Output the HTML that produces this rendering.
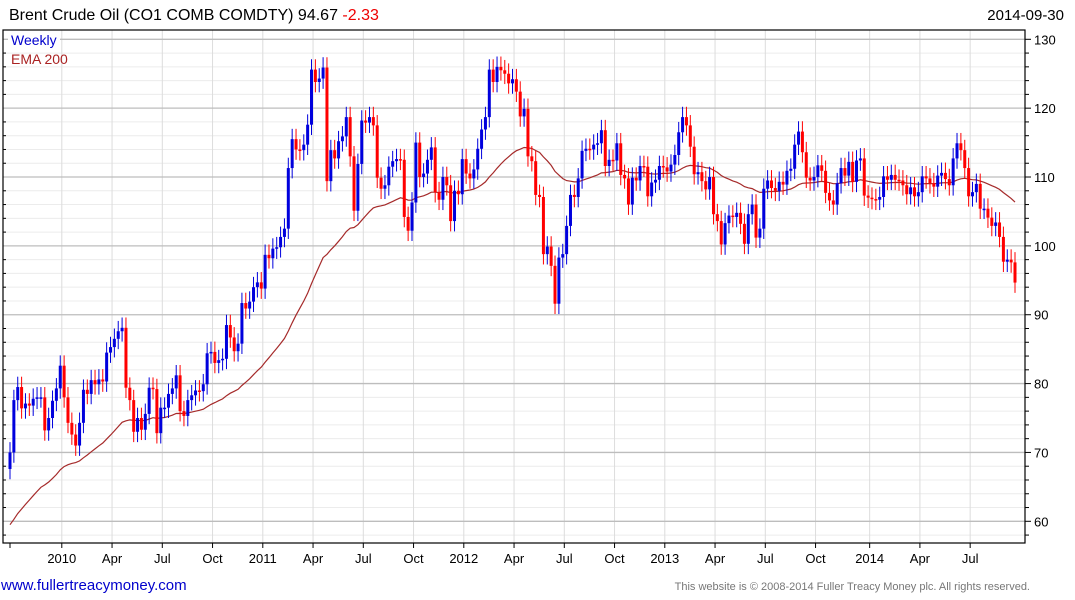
<!DOCTYPE html>
<html><head><meta charset="utf-8"><style>
body{margin:0;background:#fff;width:1075px;height:600px;overflow:hidden;font-family:"Liberation Sans",sans-serif}
svg{display:block}
</style></head><body>
<svg id="chart" width="1075" height="600" xmlns="http://www.w3.org/2000/svg">
<text x="9" y="20" font-size="16" fill="#000">Brent Crude Oil  (CO1 COMB COMDTY) 94.67 <tspan fill="#e00">-2.33</tspan></text>
<text x="1064" y="20" font-size="15" text-anchor="end" fill="#000">2014-09-30</text>
<g id="grid"></g>
<g id="ema"></g>
<g id="candles"></g>
<rect x="3" y="30" width="1022" height="513" fill="none" stroke="#000" stroke-width="1.2"/>
<g id="axes"></g>
<rect x="8" y="32" width="52" height="15" fill="#fff"/>
<text x="11" y="45" font-size="14" fill="#00c">Weekly</text>
<text x="11" y="64" font-size="14" fill="#a22">EMA 200</text>
<text x="1" y="590" font-size="15" fill="#00c">www.fullertreacymoney.com</text>
<text x="1030" y="590" font-size="11" text-anchor="end" fill="#777">This website is © 2008-2014 Fuller Treacy Money plc. All rights reserved.</text>
</svg>
<script>
const closes=[70.0,77.6,79.5,76.4,77.1,76.8,77.8,78.0,78.0,73.2,75.0,77.5,79.3,82.6,78.0,74.3,72.6,71.0,74.3,79.1,78.5,80.5,79.9,80.6,80.3,84.5,85.3,86.5,87.6,88.1,79.4,77.6,73.0,75.0,73.3,75.6,79.4,79.2,72.8,76.5,76.5,78.5,79.3,81.2,76.0,75.3,77.6,78.3,79.0,78.9,79.9,84.4,84.6,83.0,83.4,83.6,88.5,86.7,84.7,85.8,91.7,90.9,91.9,94.0,94.7,93.8,98.7,98.2,
99.6,99.8,101.3,102.5,111.3,115.5,114.0,113.9,114.7,117.6,125.6,123.8,124.3,125.9,109.4,113.9,112.7,115.2,115.9,118.7,113.0,105.1,111.9,118.2,117.9,118.7,117.5,109.9,108.3,108.8,111.5,112.3,112.6,112.5,104.2,102.2,106.3,115.0,110.0,110.5,112.5,114.3,107.8,106.7,110.0,108.8,103.6,108.0,107.5,112.6,110.5,109.8,111.1,114.1,116.9,118.7,125.6,123.8,126.0,125.5,125.0,123.6,124.2,122.4,118.8,119.9,113.0,
112.3,107.4,107.1,98.8,99.9,97.1,91.6,98.3,98.8,102.9,107.4,107.1,109.8,113.8,114.1,114.0,114.7,114.9,116.8,111.6,112.5,112.4,114.9,110.3,109.8,106.0,109.9,109.5,111.6,111.5,107.2,109.2,109.6,111.6,111.4,110.8,111.8,113.2,116.5,118.7,117.5,114.4,110.4,110.7,109.4,108.2,110.0,104.6,103.6,100.2,103.3,104.4,104.2,104.8,103.2,100.3,104.6,106.0,101.2,102.5,108.3,109.5,108.4,108.0,109.3,108.9,110.9,
111.2,114.7,116.6,113.6,109.9,109.5,110.0,111.7,110.9,107.7,106.6,106.0,109.1,111.3,110.2,112.2,109.3,112.4,112.7,107.3,107.0,106.8,106.7,107.1,110.1,109.6,110.3,109.6,109.5,108.8,107.5,108.5,107.2,107.8,110.1,109.8,109.1,108.6,110.2,110.6,109.7,108.8,112.7,114.9,113.9,111.3,107.2,107.8,109.0,105.4,105.4,104.1,102.9,103.4,101.3,97.7,98.0,97.6,94.67];
const firstOpen=67.6;
const emaSeed=59.5;
const yTicks=[60,70,80,90,100,110,120,130];
const xLabels=["2010","Apr","Jul","Oct","2011","Apr","Jul","Oct","2012","Apr","Jul","Oct","2013","Apr","Jul","Oct","2014","Apr","Jul"];
const xLabelWeek=[13.4,26.4,39.4,52.4,65.4,78.4,91.4,104.4,117.4,130.4,143.4,156.4,169.4,182.4,195.4,208.4,222.4,235.4,248.4];

const NS="http://www.w3.org/2000/svg";
const N=closes.length;
function X(i){return 10+i*(1015-10)/(N-1);}
function Y(v){return 521.3-(v-60)*(521.3-39.3)/70;}
function mk(tag,attrs,parent){const e=document.createElementNS(NS,tag);for(const k in attrs)e.setAttribute(k,attrs[k]);parent.appendChild(e);return e;}
const grid=document.getElementById('grid'),axes=document.getElementById('axes');
for(let v=58;v<=130;v+=2){
  if(v%10===0)continue;
  const l=mk('line',{x1:3,x2:1025,y1:Y(v),y2:Y(v),stroke:'#ececec','stroke-width':1},grid);
  
  
  const t=mk('line',{x1:1025,x2:1029,y1:Y(v),y2:Y(v),stroke:'#000','stroke-width':1},axes);
  
  
  const t2=mk('line',{x1:3,x2:6,y1:Y(v),y2:Y(v),stroke:'#000','stroke-width':1},axes);
  
  
}
xLabels.forEach((s,k)=>{
  const x=X(xLabelWeek[k]);
  const l=mk('line',{x1:x,x2:x,y1:30,y2:543,stroke:'#dcdcdc','stroke-width':1},grid);
  
  
  const t=mk('line',{x1:x,x2:x,y1:543,y2:548,stroke:'#000','stroke-width':1},axes);
  
  
  const tx=mk('text',{x:x,y:563,'font-size':13,'text-anchor':'middle',fill:'#000'},axes);
  tx.textContent=s;
  
  
});
{const t=mk('line',{x1:X(0),x2:X(0),y1:543,y2:548,stroke:'#000'},axes);

}
yTicks.forEach(v=>{
  const l=mk('line',{x1:3,x2:1025,y1:Y(v),y2:Y(v),stroke:'#bdbdbd','stroke-width':1.3},grid);
  
  
  const t=mk('line',{x1:1025,x2:1031,y1:Y(v),y2:Y(v),stroke:'#000'},axes);
  
  
  const tx=mk('text',{x:1034,y:Y(v)+5,'font-size':13,fill:'#000'},axes);
  tx.textContent=v;
  
  
});
// EMA
let e=emaSeed,pts=[];const a=2/46;
closes.forEach((c,i)=>{if(i>0)e=e+a*(c-e);pts.push(X(i).toFixed(1)+','+Y(e).toFixed(1));});
const pl=mk('polyline',{points:pts.join(' '),fill:'none',stroke:'#a52a2a','stroke-width':1.2},document.getElementById('ema'));


// candles
const cg=document.getElementById('candles');
closes.forEach((c,i)=>{
  const o=i===0?firstOpen:closes[i-1];
  const up=c>=o,col=up?'#0000dd':'#ff0000';
  const hi=Math.max(o,c)+1.5,lo=Math.min(o,c)-1.5,x=X(i);
  const w=mk('line',{x1:x,x2:x,y1:Y(hi),y2:Y(lo),stroke:col,'stroke-width':1},cg);
  
  
  const top=Y(Math.max(o,c)),h=Math.max(1.5,Y(Math.min(o,c))-top);
  const b=mk('rect',{x:x-1.5,y:top,width:3,height:h,fill:col},cg);
  
  
});
</script>
</body></html>
